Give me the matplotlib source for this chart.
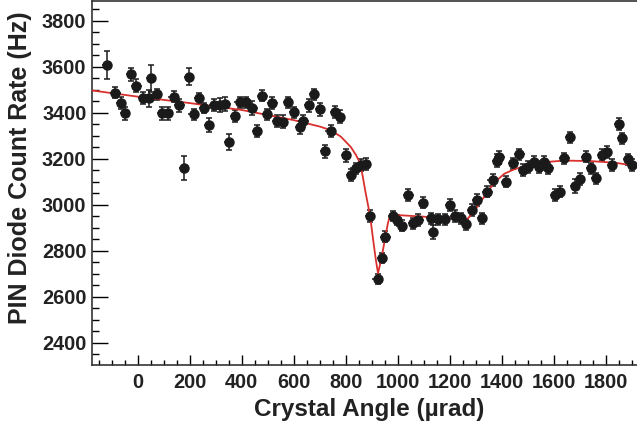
import matplotlib
matplotlib.use("Agg")
import matplotlib.pyplot as plt
from matplotlib.ticker import MultipleLocator

# measured points: crystal angle (urad), count rate (Hz), y error (Hz)
angle = [-118, -86, -64, -48, -26, -5, 20, 42, 52, 74, 93, 116, 138, 160, 177,
         196, 215, 235, 256, 273, 295, 318, 337, 352, 375, 392, 415, 441, 458,
         479, 496, 518, 537, 558, 577, 601, 624, 637, 659, 678, 701, 720, 742,
         759, 778, 801, 820, 838, 859, 878, 893, 922, 940, 952, 981, 996, 1015,
         1041, 1060, 1079, 1098, 1127, 1135, 1156, 1182, 1201, 1220, 1242, 1263,
         1285, 1304, 1325, 1345, 1365, 1381, 1391, 1417, 1445, 1468, 1483, 1502,
         1522, 1543, 1564, 1579, 1605, 1624, 1641, 1663, 1682, 1701, 1723, 1742,
         1762, 1785, 1804, 1823, 1851, 1862, 1885, 1900]
rate = [3607, 3487, 3443, 3397, 3568, 3517, 3465, 3462, 3550, 3480, 3397, 3397,
        3470, 3433, 3158, 3557, 3393, 3462, 3419, 3347, 3433, 3433, 3438, 3274,
        3386, 3445, 3445, 3419, 3320, 3474, 3393, 3443, 3364, 3361, 3445, 3402,
        3337, 3364, 3433, 3480, 3415, 3233, 3320, 3404, 3383, 3216, 3129, 3158,
        3173, 3177, 2952, 2676, 2767, 2861, 2951, 2933, 2909, 3042, 2919, 2933,
        3009, 2941, 2883, 2936, 2936, 2999, 2951, 2941, 2915, 2977, 3020, 2941,
        3057, 3107, 3191, 3206, 3100, 3180, 3219, 3151, 3165, 3187, 3165, 3187,
        3158, 3042, 3057, 3202, 3293, 3081, 3112, 3209, 3158, 3115, 3216, 3230,
        3173, 3351, 3289, 3197, 3173]
rate_err = [60, 25, 25, 28, 28, 28, 25, 35, 58, 25, 28, 30, 25, 28, 52, 38, 25,
            25, 22, 30, 25, 30, 30, 35, 25, 25, 25, 30, 25, 25, 25, 25, 28, 28,
            25, 25, 28, 28, 28, 25, 28, 28, 25, 25, 28, 28, 25, 25, 25, 25, 25,
            22, 22, 25, 22, 22, 25, 25, 25, 25, 25, 25, 30, 25, 25, 25, 25, 25,
            25, 25, 25, 25, 25, 25, 28, 28, 25, 25, 25, 25, 25, 25, 25, 25, 25,
            25, 25, 25, 25, 30, 25, 25, 25, 25, 25, 25, 25, 25, 25, 25, 25]
angle_err = 20

# fitted curve
fit_angle = [-176, 0, 200, 400, 500, 600, 700, 740, 780, 800, 820, 840, 855,
             865, 875, 893, 905, 915, 924, 935, 950, 962, 972, 1000, 1100, 1200,
             1265, 1290, 1320, 1350, 1380, 1410, 1450, 1500, 1550, 1640, 1740,
             1840, 1920]
fit_rate = [3497, 3470, 3442, 3412, 3390, 3368, 3340, 3325, 3297, 3274, 3250,
            3215, 3180, 3125, 3060, 2955, 2850, 2765, 2702, 2755, 2845, 2920,
            2958, 2955, 2948, 2940, 2935, 2965, 3015, 3065, 3105, 3135, 3155,
            3172, 3184, 3192, 3190, 3182, 3168]

plt.rcParams['font.family'] = ['Liberation Sans', 'DejaVu Sans']

fig = plt.figure(figsize=(6.37, 4.28), dpi=100)
ax = fig.add_axes([92 / 637, 63 / 428, 545 / 637, 364 / 428])

ax.plot(fit_angle, fit_rate, color="#d8312e", lw=1.3, zorder=3)
ax.errorbar(angle, rate, yerr=rate_err, fmt="none", ecolor="#1a1a1a",
            elinewidth=1.1, capsize=2.2, capthick=1.1, zorder=2)
ax.errorbar(angle, rate, xerr=angle_err, fmt="o", color="#1a1a1a",
            ecolor="#1a1a1a", elinewidth=1.1, markersize=6.5, capsize=0, zorder=4)

ax.set_xlim(-176, 1920)
ax.set_ylim(2303, 3886)
ax.xaxis.set_major_locator(MultipleLocator(200))
ax.xaxis.set_minor_locator(MultipleLocator(50))
ax.yaxis.set_major_locator(MultipleLocator(200))
ax.yaxis.set_minor_locator(MultipleLocator(50))
ax.tick_params(axis="x", which="major", direction="in", length=7.2, width=1,
               pad=6, labelsize=14.3, top=False)
ax.tick_params(axis="x", which="minor", direction="in", length=3.3, width=1,
               top=False)
ax.tick_params(axis="y", which="major", direction="in", length=11.5, width=1,
               pad=4, labelsize=14.3, right=False)
ax.tick_params(axis="y", which="minor", direction="in", length=5, width=1,
               right=False)
for lab in ax.get_xticklabels() + ax.get_yticklabels():
    lab.set_fontweight("bold")
    lab.set_color("#222222")
ax.spines["right"].set_visible(False)
for s in ["left", "bottom", "top"]:
    ax.spines[s].set_linewidth(1.2)
    ax.spines[s].set_color("#333333")

ax.set_xlabel("Crystal Angle (\u00b5rad)", fontsize=17.5, fontweight="bold",
              color="#222222")
ax.set_ylabel("PIN Diode Count Rate (Hz)", fontsize=18, fontweight="bold",
              color="#222222")
ax.xaxis.set_label_coords(0.508, -0.121)
ax.xaxis.label.set_verticalalignment("center")
ax.yaxis.set_label_coords(-0.132, 0.541)
ax.yaxis.label.set_verticalalignment("center")

fig.savefig("out.png", dpi=100)
